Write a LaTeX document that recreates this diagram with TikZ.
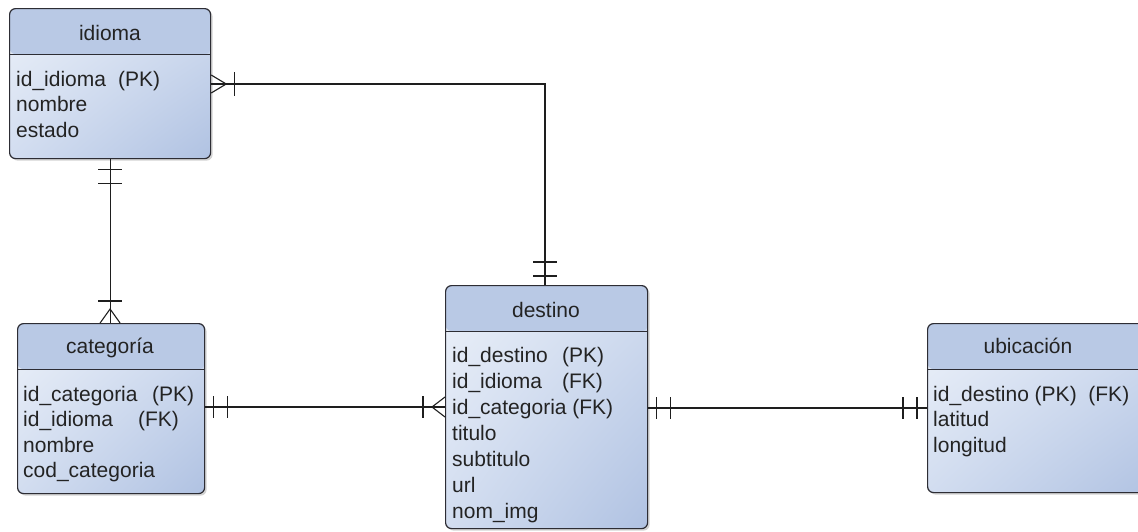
\documentclass[tikz,border=0pt]{standalone}
\usepackage{fontspec}
\setmainfont{Liberation Sans}
\usetikzlibrary{shadows,shadings,calc}
\definecolor{headcol}{RGB}{185,201,229}
\definecolor{bodyA}{RGB}{236,241,249}
\definecolor{bodyB}{RGB}{210,221,240}
\definecolor{bodyC}{RGB}{176,194,226}
\definecolor{edgecol}{RGB}{45,45,52}
\definecolor{txtcol}{RGB}{35,35,35}
\definecolor{linecol}{RGB}{30,30,30}
\begin{document}
\begin{tikzpicture}[x=1pt,y=-1pt,
  entbox/.style={draw=edgecol, line width=1.2pt, rounded corners=6pt, inner sep=0pt, anchor=north west,
    drop shadow={shadow xshift=2pt, shadow yshift=-2pt, opacity=0.25, fill=black!70},
    path picture={
      \shade[upper left=bodyA, upper right=bodyB, lower left=bodyB, lower right=bodyC]
        (path picture bounding box.south west) rectangle (path picture bounding box.north east);
      \fill[headcol] (path picture bounding box.north west) rectangle ([yshift=-45.5pt]path picture bounding box.north east);
      \draw[edgecol, line width=1.2pt] ([yshift=-45.5pt]path picture bounding box.north west) -- ([yshift=-45.5pt]path picture bounding box.north east);
    }},
  ttl/.style={font=\fontsize{21}{24}\selectfont, text=txtcol, anchor=base, inner sep=0pt},
  rows/.style={font=\fontsize{21}{25.5}\selectfont, text=txtcol, anchor=base west, inner sep=0pt},
  rel/.style={draw=linecol, line width=1.1pt}
]
\useasboundingbox (0,0) rectangle (1138,531);
\clip (0,0) rectangle (1138,531);

% entities
\node[entbox, minimum width=201pt, minimum height=150pt] (idioma) at (9,8) {};
\node[entbox, minimum width=187pt, minimum height=170pt] (categoria) at (17,323) {};
\node[entbox, minimum width=202pt, minimum height=243pt] (destino) at (445,285) {};
\node[entbox, minimum width=230pt, minimum height=169pt] (ubicacion) at (927,323) {};

% titles
\node[ttl] (idioma-t) at (110,40) {idioma};
\node[ttl] (categoria-t) at (110,353) {categoría};
\node[ttl] (destino-t) at (546,317) {destino};
\node[ttl] (ubicacion-t) at (1028,353) {ubicación};

% rows
\node[rows] (idioma-r) at (16,86) {\begin{tabular}[t]{@{}l@{}}
\makebox[102pt][l]{id\_idioma}(PK)\\ nombre\\ estado\end{tabular}};
\node[rows] (categoria-r) at (23,401) {\begin{tabular}[t]{@{}l@{}}
\makebox[129pt][l]{id\_categoria}(PK)\\ \makebox[115pt][l]{id\_idioma}(FK)\\ nombre\\ cod\_categoria\end{tabular}};
\node[rows, font=\fontsize{21}{26}\selectfont] (destino-r) at (452,362) {\begin{tabular}[t]{@{}l@{}}
\makebox[110pt][l]{id\_destino}(PK)\\ \makebox[110pt][l]{id\_idioma}(FK)\\ id\_categoria (FK)\\ titulo\\ subtitulo\\ url\\ nom\_img\end{tabular}};
\node[rows] (ubicacion-r) at (933,401) {\begin{tabular}[t]{@{}l@{}}
id\_destino (PK)\ \ (FK)\\ latitud\\ longitud\end{tabular}};

% connector idioma -- destino
\coordinate (a1) at ($(idioma.north east)+(0,76)$);
\coordinate (a2) at ($(destino.north west)+(100,0)$);
\draw[rel] (a1) -| (a2);
\draw[rel] ($(a1)+(0,-9)$) -- ($(a1)+(15,0)$) -- ($(a1)+(0,9)$);
\draw[rel] ($(a1)+(23,-12)$) -- ($(a1)+(23,12)$);
\draw[rel] ($(a2)+(-12,-23)$) -- ($(a2)+(12,-23)$);
\draw[rel] ($(a2)+(-12,-9)$) -- ($(a2)+(12,-9)$);

% connector idioma -- categoria
\coordinate (b1) at (idioma.south);
\coordinate (b2) at (idioma.south |- categoria.north);
\draw[rel] (b1) -- (b2);
\draw[rel] ($(b1)+(-12,10)$) -- ($(b1)+(12,10)$);
\draw[rel] ($(b1)+(-12,24)$) -- ($(b1)+(12,24)$);
\draw[rel] ($(b2)+(-12,-22)$) -- ($(b2)+(12,-22)$);
\draw[rel] ($(b2)+(-10,0)$) -- ($(b2)+(0,-14)$) -- ($(b2)+(10,0)$);

% connector categoria -- destino
\coordinate (c1) at ($(categoria.north east)+(0,84)$);
\coordinate (c2) at (destino.west |- c1);
\draw[rel] (c1) -- (c2);
\draw[rel] ($(c1)+(8,-11)$) -- ($(c1)+(8,11)$);
\draw[rel] ($(c1)+(22,-11)$) -- ($(c1)+(22,11)$);
\draw[rel] ($(c2)+(0,-10)$) -- ($(c2)+(-13,0)$) -- ($(c2)+(0,10)$);
\draw[rel] ($(c2)+(-22,-11)$) -- ($(c2)+(-22,11)$);

% connector destino -- ubicacion
\coordinate (d1) at ($(destino.north east)+(0,123)$);
\coordinate (d2) at (ubicacion.west |- d1);
\draw[rel] (d1) -- (d2);
\draw[rel] ($(d1)+(8,-11)$) -- ($(d1)+(8,11)$);
\draw[rel] ($(d1)+(22,-11)$) -- ($(d1)+(22,11)$);
\draw[rel] ($(d2)+(-24,-11)$) -- ($(d2)+(-24,11)$);
\draw[rel] ($(d2)+(-10,-11)$) -- ($(d2)+(-10,11)$);
\end{tikzpicture}
\end{document}
